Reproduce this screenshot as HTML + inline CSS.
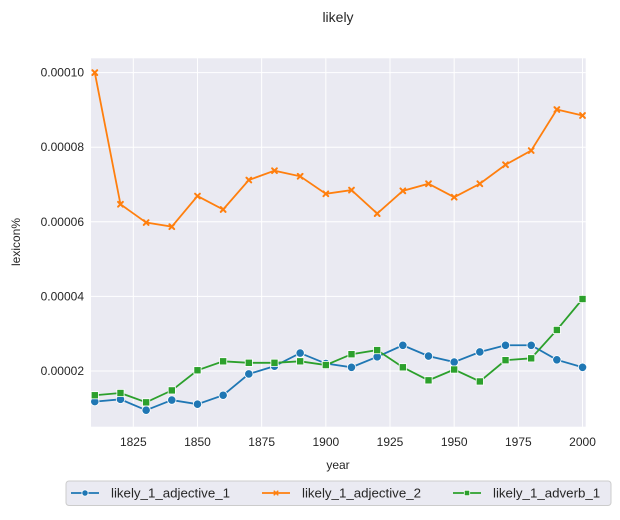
<!DOCTYPE html>
<html><head><meta charset="utf-8"><style>
body{margin:0;background:#fff;font-family:"Liberation Sans",Arial,sans-serif;}
svg text{font-family:"Liberation Sans",Arial,sans-serif;fill:#262626;}
</style></head><body>
<svg id="chart" width="620" height="515" xmlns="http://www.w3.org/2000/svg">
<text x="338" y="22" font-size="14" text-anchor="middle">likely</text>
<rect x="91" y="58.3" width="494.7" height="368.4" fill="#eaeaf2"/>
<g id="grid"></g><g id="ticks"></g><g id="series"></g>
<text x="338" y="469" font-size="12" text-anchor="middle">year</text>
<text transform="translate(20,242) rotate(-90)" font-size="12" text-anchor="middle">lexicon%</text>
<g id="legend">
<rect x="66" y="481" width="545" height="24.5" rx="3" fill="#eaeaf2" stroke="#cccccc" stroke-width="1"/>
</g>
</svg>
<script>
const years=[1810,1820,1830,1840,1850,1860,1870,1880,1890,1900,1910,1920,1930,1940,1950,1960,1970,1980,1990,2000];
const adj1=[1.18,1.24,0.95,1.22,1.11,1.35,1.92,2.13,2.48,2.20,2.10,2.38,2.69,2.40,2.24,2.51,2.69,2.69,2.30,2.10];
const adj2=[10.0,6.47,5.98,5.87,6.69,6.33,7.12,7.37,7.22,6.75,6.85,6.22,6.83,7.02,6.66,7.02,7.53,7.91,9.01,8.85];
const adv1=[1.35,1.41,1.16,1.48,2.02,2.26,2.22,2.22,2.26,2.16,2.45,2.56,2.10,1.75,2.04,1.72,2.29,2.34,3.10,3.93];
const xTicks=[1825,1850,1875,1900,1925,1950,1975,2000];
const yTicks=[2,4,6,8,10];
const yTickLabels=["0.00002","0.00004","0.00006","0.00008","0.00010"];
const names=["likely_1_adjective_1","likely_1_adjective_2","likely_1_adverb_1"];
const NS="http://www.w3.org/2000/svg";
function X(v){return 133.3+(v-1825)*2.567;}
function Y(v){return 445.6-v*37.3;}
function mk(tag,attrs,parent){const e=document.createElementNS(NS,tag);for(const k in attrs)e.setAttribute(k,attrs[k]);parent.appendChild(e);return e;}
const grid=document.getElementById('grid'),ticks=document.getElementById('ticks'),ser=document.getElementById('series'),leg=document.getElementById('legend');
xTicks.forEach(t=>{
 const l=mk('line',{x1:X(t),x2:X(t),y1:58.3,y2:426.7,stroke:'#fff','stroke-width':1},grid);
 
 
 const tx=mk('text',{x:X(t),y:446,'font-size':12,'text-anchor':'middle'},ticks);tx.textContent=t;
 
 
});
yTicks.forEach((t,i)=>{
 const l=mk('line',{x1:91,x2:585.7,y1:Y(t),y2:Y(t),stroke:'#fff','stroke-width':1},grid);
 
 
 const tx=mk('text',{x:84,y:Y(t)+4,'font-size':12,'text-anchor':'end'},ticks);tx.textContent=yTickLabels[i];
 
 
});
function marker(type,x,y,c,p,s){
 if(type==='o') return mk('circle',{cx:x,cy:y,r:4.2*s,fill:c,stroke:'#fff','stroke-width':0.8},p);
 if(type==='s') return mk('rect',{x:x-3.6*s,y:y-3.6*s,width:7.2*s,height:7.2*s,fill:c,stroke:'#fff','stroke-width':0.8},p);
 const d=2.4*s;return mk('path',{d:`M${x-d},${y-d}L${x+d},${y+d}M${x-d},${y+d}L${x+d},${y-d}`,stroke:c,'stroke-width':2*s,'stroke-linecap':'round'},p);
}
const sets=[[adj1,'#1f77b4','o'],[adj2,'#ff7f0e','x'],[adv1,'#2ca02c','s']];
sets.forEach(([vals,c,m],si)=>{
 const g=mk('g',{},ser);
 
 
 mk('polyline',{points:years.map((y,i)=>X(y)+','+Y(vals[i])).join(' '),fill:'none',stroke:c,'stroke-width':1.8},g);
 years.forEach((y,i)=>{const e=marker(m,X(y),Y(vals[i]),c,g,1);
  
  });
});
const lx=[71,262,453];
sets.forEach(([vals,c,m],si)=>{
 const g=mk('g',{},leg);
 
 
 mk('line',{x1:lx[si],x2:lx[si]+28,y1:493,y2:493,stroke:c,'stroke-width':1.8},g);
 marker(m,lx[si]+14,493,c,g,0.75);
 const t=mk('text',{x:lx[si]+40,y:497.5,'font-size':13.3},g);t.textContent=names[si];
});
</script>
</body></html>
